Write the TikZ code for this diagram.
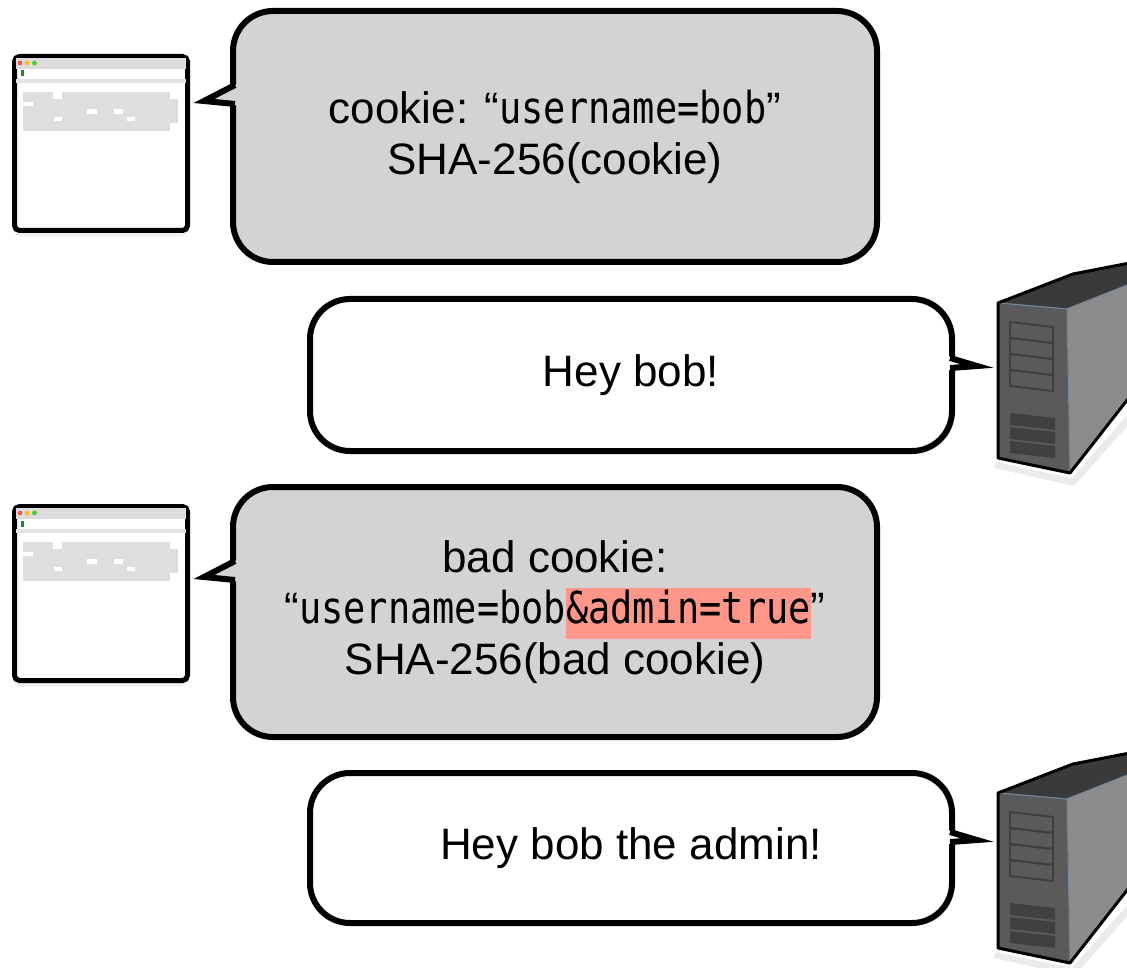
\documentclass[tikz,border=0pt]{standalone}
\usepackage{fontspec}
\setmainfont{Liberation Sans}
\setmonofont[FakeStretch=0.84]{DejaVu Sans Mono}
\usepackage{xcolor}
\usetikzlibrary{shadows}
\definecolor{bubblegray}{RGB}{211,211,211}
\definecolor{badred}{RGB}{255,150,138}
\definecolor{skelgray}{RGB}{222,222,222}
\definecolor{barlight}{RGB}{220,220,220}
\definecolor{dotred}{RGB}{238,90,82}
\definecolor{dotyellow}{RGB}{245,191,47}
\definecolor{dotgreen}{RGB}{95,192,56}
\definecolor{lockgreen}{RGB}{26,138,42}
\definecolor{towertop}{RGB}{58,58,58}
\definecolor{towerfront}{RGB}{90,90,90}
\definecolor{towerside}{RGB}{140,140,140}
\definecolor{towerslot}{RGB}{64,64,64}
\definecolor{toweredge}{RGB}{120,135,150}

\newcommand{\hilite}[1]{{\setlength{\fboxsep}{0pt}\colorbox{badred}{\strut#1}}}

\tikzset{
  bubble/.style={draw=black, line width=3pt, rounded corners=20pt, align=center,
    font=\fontsize{22}{25.5}\selectfont, inner sep=0pt},
  tail/.style={draw=black, line width=3pt, line join=miter},
  browserwin/.pic={
    \draw[line width=2.5pt, rounded corners=2.5pt, fill=white,
      drop shadow={opacity=0.12, shadow xshift=0pt, shadow yshift=-3pt}]
      (14.5,56.5) rectangle (187.5,230.5);
    \fill[barlight] (16,58) rectangle (186,69);
    \fill[dotred] (20,63) circle (1.2pt);
    \fill[dotyellow] (27,63) circle (1.2pt);
    \fill[dotgreen] (34.5,63) circle (1.2pt);
    \fill[lockgreen] (21.3,70.5) rectangle (24.3,76.5);
    \fill[barlight!80!white] (16,79) rectangle (186,83);
    % text skeleton
    \fill[skelgray] (23.3,91.7) rectangle (170,130.7);
    \fill[skelgray] (170,99.3) rectangle (178.3,123.3);
    \fill[white] (53.3,91.7) rectangle (61.7,99.3);
    \fill[white] (23.3,101.7) rectangle (33.3,106);
    \fill[white] (87.3,109) rectangle (97.3,114);
    \fill[white] (114.3,109) rectangle (123.3,114);
    \fill[white] (54,116.7) rectangle (61.7,121);
    \fill[white] (126.7,116.7) rectangle (135,121);
  },
  servertower/.pic={
    \fill[black, opacity=0.08] (996,462) -- (1072,478) -- (1140,400) -- (1140,412) -- (1074,486) -- (994,468) -- cycle;
    \filldraw[towertop, draw=toweredge, line width=0.5pt] (998,303) -- (1073,274) -- (1135,262) -- (1135,282) -- (1067,309) -- cycle;
    \filldraw[towerside, draw=toweredge, line width=0.5pt] (1067,309) -- (1135,282) -- (1135,390) -- (1070,473) -- cycle;
    \filldraw[towerfront, draw=toweredge, line width=0.5pt] (998,303) -- (1067,309) -- (1070,473) -- (998,458) -- cycle;
    \draw[black, line width=1.5pt, line join=round] (1135,262) -- (1073,274) -- (998,303) -- (998,458) -- (1070,473) -- (1135,390);
    \foreach \r in {0,...,3}
      \draw[towerslot, line width=1pt] (1010,{322+16*\r}) -- (1053,{327+16*\r}) -- (1053,{343+16*\r}) -- (1010,{338+16*\r}) -- cycle;
    \foreach \r in {0,1,2}
      \fill[towerslot] (1010,{413+14*\r}) -- (1055,{418+14*\r}) -- (1055,{430+14*\r}) -- (1010,{425+14*\r}) -- cycle;
  }
}

\begin{document}
\begin{tikzpicture}[x=0.5pt, y=-0.5pt]
\useasboundingbox (0,0) rectangle (1127,967);

% clients
\pic at (0,0) {browserwin};
\pic at (0,450) {browserwin};

% servers
\pic at (0,0) {servertower};
\pic at (0,490) {servertower};

% first request / reply
\node[bubble, fill=bubblegray, minimum width=322pt, minimum height=125.5pt] (cookiemsg) at (555,136.5)
  {cookie: “\texttt{username=bob}”\\SHA-256(cookie)};
\fill[bubblegray] (237,84) -- (204,101) -- (237,105.5) -- cycle;
\draw[tail] (235,85) -- (204,101) -- (235,104);

\node[bubble, fill=white, minimum width=321pt, minimum height=76pt] (heybob) at (631,375) {Hey bob!};
\fill[white] (948,356) -- (977,366) -- (948,370) -- cycle;
\draw[tail] (950,358) -- (977,366) -- (950,368);

% forged request / reply
\node[bubble, fill=bubblegray, minimum width=322pt, minimum height=125pt] (badcookie) at (555,612)
  {bad cookie:\\“\texttt{username=bob\hilite{\&admin=true}}”\\SHA-256(bad cookie)};
\fill[bubblegray] (237,560) -- (204,577) -- (237,581.5) -- cycle;
\draw[tail] (235,561) -- (204,577) -- (235,580);

\node[bubble, fill=white, minimum width=321pt, minimum height=75pt] (heyadmin) at (631,848) {Hey bob the admin!};
\fill[white] (948,830) -- (977,840) -- (948,844) -- cycle;
\draw[tail] (950,832) -- (977,840) -- (950,842);
\end{tikzpicture}
\end{document}
